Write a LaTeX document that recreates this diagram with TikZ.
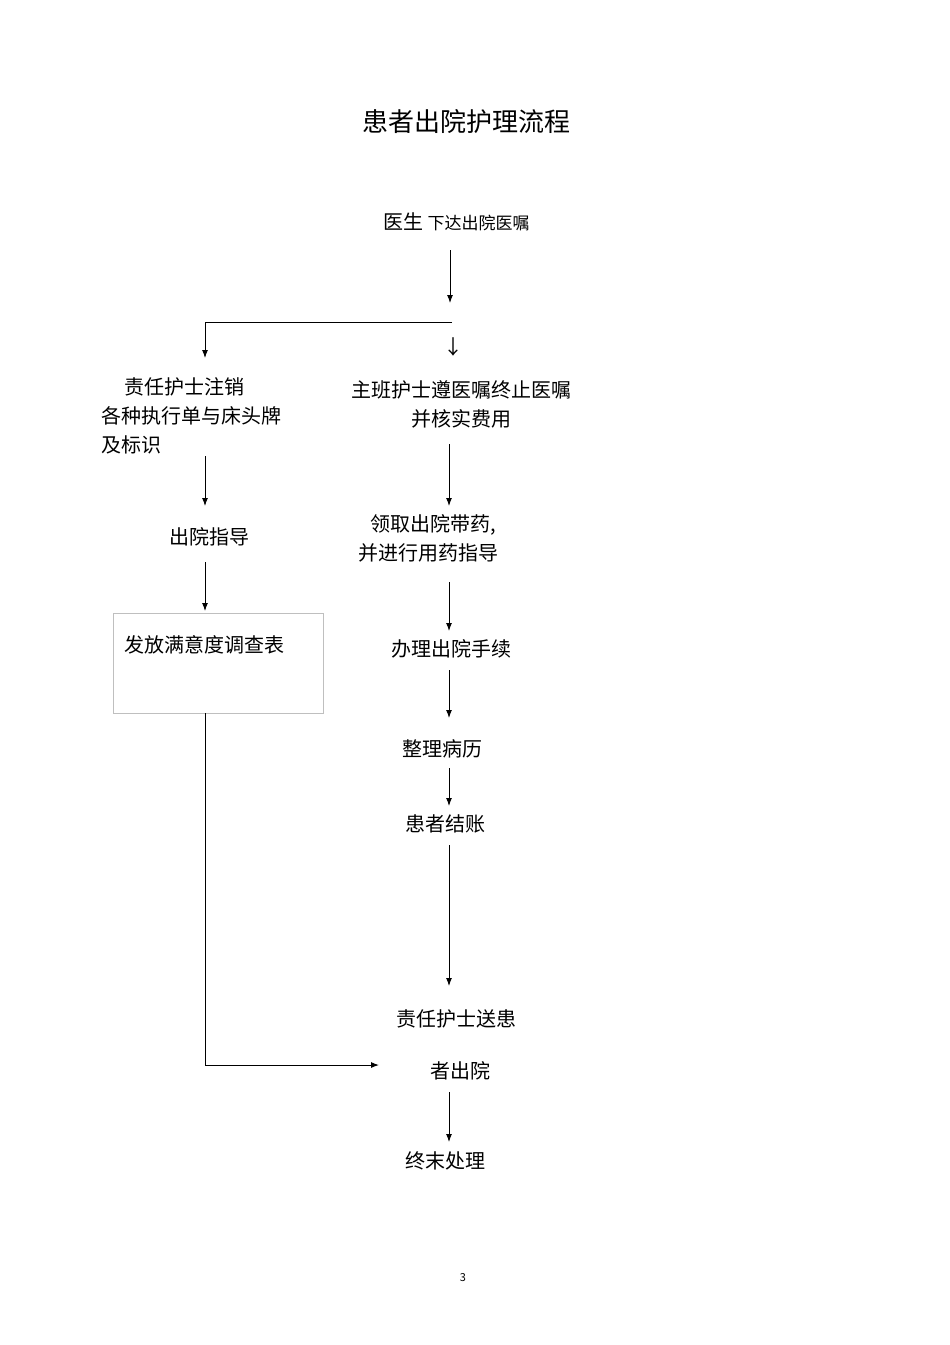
\documentclass[tikz,border=0pt]{standalone}
\usepackage{fontspec}
\setmainfont{Noto Sans CJK SC}
\usetikzlibrary{arrows.meta}
\begin{document}
\begin{tikzpicture}[x=1pt,y=-1pt,
  txt/.style={inner sep=0pt,font=\fontsize{20}{29}\selectfont},
  arr/.style={line width=1pt,-{Latex[length=8pt,width=6pt]}},
  ln/.style={line width=1pt}]
\useasboundingbox[fill=white] (0,0) rectangle (950,1345);
\node[inner sep=0pt,font=\fontsize{26}{30}\selectfont] (title) at (466,122) {患者出院护理流程};
\node[txt,anchor=west] (doc) at (383,222) {医生 {\fontsize{17}{20}\selectfont 下达出院医嘱}};
\coordinate (a1) at (450,250); \coordinate (a2) at (450,303);
\draw[arr] (a1) -- (a2);
\coordinate (s1) at (452,322); \coordinate (s2) at (205,322); \coordinate (s3) at (205,358);
\draw[ln] (s1) -- (s2);
\draw[arr] (s2) -- (s3);
\node[inner sep=0pt,font=\fontsize{20}{20}\selectfont] (da) at (453,347) {↓};
\node[txt,anchor=north west,align=left] (l1) at (101,377) {\hspace{23pt}责任护士注销\\各种执行单与床头牌\\及标识};
\node[txt,align=center] (r1) at (461,404) {主班护士遵医嘱终止医嘱\\并核实费用};
\coordinate (b1) at (205,456); \coordinate (b2) at (205,506);
\draw[arr] (b1) -- (b2);
\coordinate (c1) at (449,444); \coordinate (c2) at (449,506);
\draw[arr] (c1) -- (c2);
\node[txt] (l2) at (209,537) {出院指导};
\node[txt,anchor=north west,align=left] (r2) at (358,514) {\hspace{12pt}领取出院带药,\\并进行用药指导};
\coordinate (b3) at (205,562); \coordinate (b4) at (205,611);
\draw[arr] (b3) -- (b4);
\coordinate (c3) at (449,582); \coordinate (c4) at (449,631);
\draw[arr] (c3) -- (c4);
\node[draw=black!25,line width=0.6pt,minimum width=210pt,minimum height=100pt,inner sep=0pt] (box) at (218,663) {};
\node[txt,anchor=west] (l3) at (124,645) {发放满意度调查表};
\node[txt] (r3) at (451,649) {办理出院手续};
\coordinate (c5) at (449,670); \coordinate (c6) at (449,718);
\draw[arr] (c5) -- (c6);
\node[txt] (r4) at (442,749) {整理病历};
\coordinate (c7) at (449,768); \coordinate (c8) at (449,806);
\draw[arr] (c7) -- (c8);
\node[txt] (r5) at (445,824) {患者结账};
\coordinate (c9) at (449,845); \coordinate (c10) at (449,986);
\draw[arr] (c9) -- (c10);
\node[txt] (r6) at (456,1019) {责任护士送患};
\node[txt] (r7) at (460,1071) {者出院};
\coordinate (d1) at (205,713); \coordinate (d2) at (205,1065); \coordinate (d3) at (379,1065);
\draw[ln] (d1) -- (d2);
\draw[arr] (d2) -- (d3);
\coordinate (c11) at (449,1092); \coordinate (c12) at (449,1142);
\draw[arr] (c11) -- (c12);
\node[txt] (r8) at (445,1161) {终末处理};
\node[inner sep=0pt,font=\fontsize{11}{12}\selectfont] (pg) at (463,1278) {3};
\end{tikzpicture}
\end{document}
